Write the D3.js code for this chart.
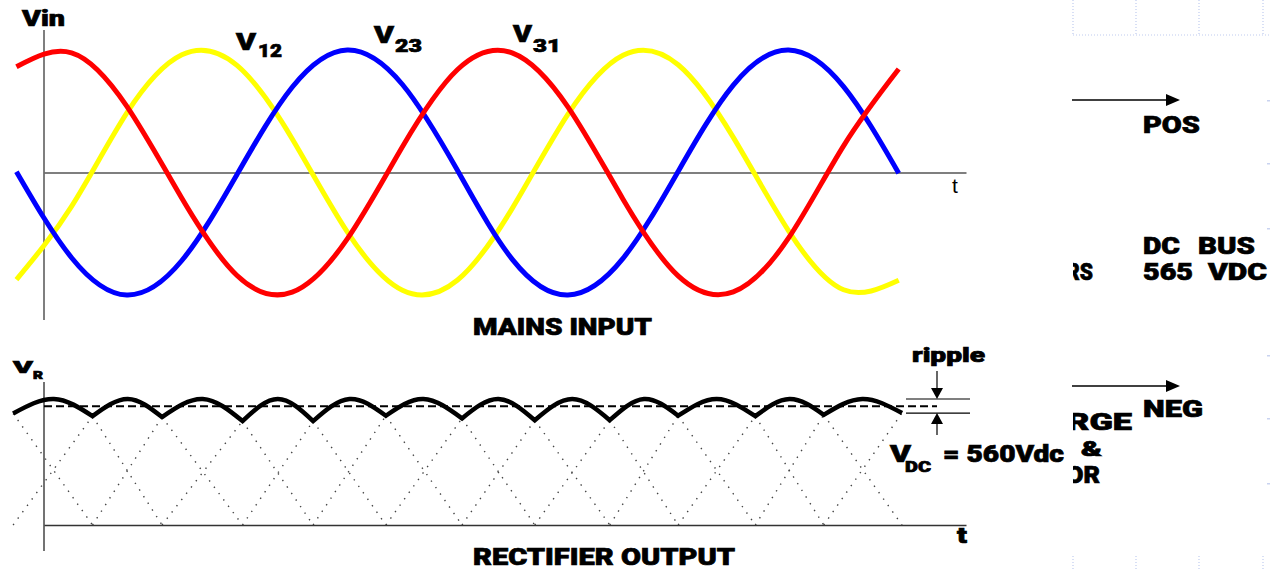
<!DOCTYPE html>
<html>
<head>
<meta charset="utf-8">
<script src="https://cdn.jsdelivr.net/npm/d3@7"></script>
<style>
  body { margin: 0; background: #fff; }
  svg { display: block; }
  .heavy { font-family: Roboto, "Liberation Sans", Arial, sans-serif; font-weight: 900; fill: #000;
           stroke: #000; stroke-width: 0.7px; paint-order: stroke; }
  .plain { font-family: "Liberation Sans", Arial, sans-serif; font-weight: 400; fill: #000; }
</style>
</head>
<body>
<div id="chart"></div>
<script>
// sample times (ms), 50 Hz mains
var tIn = [-1.25, 1.25, 3.75, 6.25, 8.75, 11.25, 13.75, 16.25, 18.75, 21.25, 23.75, 26.25, 28.75, 31.25, 33.75, 36.25, 38.75];
// line voltages (V) at those times
var v12 = [-494, -156, 274, 543, 494, 156, -274, -543, -496, -162, 268, 541, 497, 162, -268, -541, -497];  // yellow
var v23 = [4, -393, -565, -406, -9, 393, 565, 406, 9, -403, -565, -396, 5, 403, 565, 396, -3];             // blue
var v31 = [488, 552, 306, -119, -475, -552, -306, 119, 475, 551, 303, -123, -477, -551, -303, 123, 477];    // red

// rectifier output: dips and crests alternate
var rippleT = [-1.4, 0.45, 2.2, 3.8, 5.35, 7.2, 9.0, 10.6, 12.2, 13.85, 15.5, 17.2, 18.95, 20.6, 22.25, 23.95, 25.65, 27.2, 28.75, 30.5, 32.25, 33.8, 35.35, 37.1, 38.9];
var rippleV = [500, 565, 488, 565, 484, 565, 466, 565, 466, 565, 490, 565, 478, 565, 470, 565, 470, 565, 490, 565, 488, 565, 494, 565, 502];
var vdcLevel = 533;          // dashed mean line
var rippleBand = [565, 502]; // ripple marker lines

function main() {
    var width = 1271, height = 570;

    var svg = d3.select("#chart").append("svg")
        .attr("width", width)
        .attr("height", height);

    var xScale = d3.scaleLinear().domain([0, 41.8]).range([44, 966]);
    var yIn = d3.scaleLinear().domain([-565, 565]).range([295, 50]);
    var yOut = d3.scaleLinear().domain([0, 565]).range([525, 399]);

    // faint slide grid remnants, top right
    var grid = svg.append("g").attr("stroke", "#bfcbef").attr("stroke-width", 1.2).attr("stroke-dasharray", "1,2");
    [1073, 1136, 1199, 1263].forEach(function(gx) {
        grid.append("line").attr("x1", gx).attr("x2", gx).attr("y1", 0).attr("y2", 35);
        grid.append("line").attr("x1", gx).attr("x2", gx).attr("y1", 556).attr("y2", 570);
    });
    grid.append("line").attr("x1", 1073).attr("x2", 1271).attr("y1", 35).attr("y2", 35);
    [100, 163, 228, 355, 418, 483].forEach(function(gy) {
        svg.append("rect").attr("x", 1267).attr("y", gy).attr("width", 3).attr("height", 1.5).attr("fill", "#c9d3f0");
    });

    // ---- MAINS INPUT ----
    svg.append("line")
        .attr("x1", xScale(0)).attr("x2", xScale(0))
        .attr("y1", 30).attr("y2", 320)
        .attr("stroke", "#555").attr("stroke-width", 1.5);

    svg.append("g")
        .attr("transform", "translate(0," + yIn(0) + ")")
        .call(d3.axisBottom(xScale).tickValues([]).tickSizeOuter(0))
        .select(".domain").attr("stroke", "#555").attr("stroke-width", 1.5);

    var phaseLine = d3.line()
        .x(function(d, i) { return xScale(tIn[i]); })
        .y(function(d) { return yIn(d); })
        .curve(d3.curveNatural);

    [[v12, "#ffff00"], [v23, "#0000ff"], [v31, "#ff0000"]].forEach(function(s) {
        svg.append("path")
            .datum(s[0])
            .attr("d", phaseLine)
            .attr("fill", "none")
            .attr("stroke", s[1])
            .attr("stroke-width", 5);
    });

    // ---- RECTIFIER OUTPUT ----
    svg.append("line")
        .attr("x1", xScale(0)).attr("x2", xScale(0))
        .attr("y1", 382).attr("y2", 551)
        .attr("stroke", "#444").attr("stroke-width", 1.5);

    svg.append("g")
        .attr("transform", "translate(0," + yOut(0) + ")")
        .call(d3.axisBottom(xScale).tickValues([]).tickSizeOuter(0))
        .select(".domain").attr("stroke", "#333").attr("stroke-width", 1.5);

    var straight = d3.line()
        .x(function(d) { return xScale(d[0]); })
        .y(function(d) { return yOut(d[1]); });

    // dotted half-waves of each line voltage, crossing between the dips
    for (var k = 0; k + 2 < rippleT.length; k += 2) {
        [[[rippleT[k], rippleV[k]], [rippleT[k + 2], 0]],
         [[rippleT[k], 0], [rippleT[k + 2], rippleV[k + 2]]]].forEach(function(seg) {
            svg.append("path")
                .attr("d", straight(seg))
                .attr("fill", "none")
                .attr("stroke", "#444")
                .attr("stroke-width", 1.4)
                .attr("stroke-dasharray", "1.4,6.5");
        });
    }

    // dashed mean level, runs on to the ripple marker
    var arrowX = 937;
    svg.append("line")
        .attr("x1", xScale(0)).attr("x2", arrowX)
        .attr("y1", yOut(vdcLevel)).attr("y2", yOut(vdcLevel))
        .attr("stroke", "#000").attr("stroke-width", 2)
        .attr("stroke-dasharray", "8,4");

    // envelope: one arc per pulse, joined at the dips
    var arcLine = d3.line()
        .x(function(d) { return xScale(d[0]); })
        .y(function(d) { return yOut(d[1]); })
        .curve(d3.curveNatural);
    var envD = "";
    for (var j = 0; j + 2 < rippleT.length; j += 2) {
        var pts = [0, 1, 2].map(function(o) { return [rippleT[j + o], rippleV[j + o]]; });
        var s = arcLine(pts);
        envD += j === 0 ? s : s.replace(/^M[^A-Za-z]*/, "");
    }
    svg.append("path")
        .attr("d", envD)
        .attr("fill", "none")
        .attr("stroke", "#000")
        .attr("stroke-width", 4.5)
        .attr("stroke-linejoin", "miter");

    // ripple marker
    rippleBand.forEach(function(v) {
        svg.append("line")
            .attr("x1", 906).attr("x2", 970)
            .attr("y1", yOut(v)).attr("y2", yOut(v))
            .attr("stroke", "#000").attr("stroke-width", 1.2);
    });
    var topY = yOut(rippleBand[0]), botY = yOut(rippleBand[1]);
    svg.append("line").attr("x1", arrowX).attr("x2", arrowX).attr("y1", 371).attr("y2", topY - 8)
        .attr("stroke", "#000").attr("stroke-width", 1.2);
    svg.append("path").attr("d", "M" + (arrowX - 6) + "," + (topY - 11) + "L" + (arrowX + 6) + "," + (topY - 11) + "L" + arrowX + "," + topY + "Z");
    svg.append("line").attr("x1", arrowX).attr("x2", arrowX).attr("y1", botY + 8).attr("y2", 435)
        .attr("stroke", "#000").attr("stroke-width", 1.2);
    svg.append("path").attr("d", "M" + (arrowX - 6) + "," + (botY + 11) + "L" + (arrowX + 6) + "," + (botY + 11) + "L" + arrowX + "," + botY + "Z");

    // POS / NEG arrows
    [100, 386].forEach(function(ay) {
        svg.append("line").attr("x1", 1072).attr("x2", 1168).attr("y1", ay).attr("y2", ay)
            .attr("stroke", "#000").attr("stroke-width", 1.5);
        svg.append("path").attr("d", "M1166," + (ay - 6) + "L1180," + ay + "L1166," + (ay + 6) + "Z");
    });

    // ---- text ----
    function label(txt, x, y, size, len, cls) {
        var t = svg.append("text")
            .attr("class", cls || "heavy")
            .attr("x", x).attr("y", y)
            .attr("font-size", size)
            .text(txt);
        if (len) t.attr("textLength", len).attr("lengthAdjust", "spacingAndGlyphs");
        return t;
    }

    label("Vin", 22, 26, 22, 43);
    label("V", 236, 50, 23, 20);  label("12", 258, 57, 19, 24);
    label("V", 374, 43, 23, 20);  label("23", 395, 52, 19, 27);
    label("V", 513, 42, 23, 19);  label("31", 533, 52, 19, 28);
    label("t", 952, 193, 21, null, "plain");
    label("MAINS INPUT", 473, 335, 23, 179);

    label("V", 13, 373, 17, 20);  label("R", 33, 379, 11, 10);
    label("RECTIFIER OUTPUT", 473, 565, 23, 262);
    label("t", 957, 543, 22, 10);

    label("ripple", 912, 362, 20, 73);
    label("V", 890, 462, 23, 21);  label("DC", 905, 472, 15, 26);
    label("= 560Vdc", 943, 462, 23, 121);

    label("POS", 1143, 133, 24, 57);
    label("DC", 1143, 254, 24, 37);   label("BUS", 1198, 254, 24, 57);
    label("565", 1143, 280, 24, 50);  label("VDC", 1208, 280, 24, 59);
    label("NEG", 1143, 417, 24, 60);

    // words cut off at the left edge of the hidden box
    svg.append("clipPath").attr("id", "cut")
        .append("rect").attr("x", 1073).attr("y", 0).attr("width", 60).attr("height", 570);
    var cut = svg.append("g").attr("clip-path", "url(#cut)");
    cut.append("text").attr("class", "heavy").attr("x", 1066).attr("y", 280).attr("font-size", 24)
        .attr("textLength", 27).attr("lengthAdjust", "spacingAndGlyphs").text("RS");
    cut.append("text").attr("class", "heavy").attr("x", 1067).attr("y", 430).attr("font-size", 24)
        .attr("textLength", 65).attr("lengthAdjust", "spacingAndGlyphs").text("RGE");
    cut.append("text").attr("class", "heavy").attr("x", 1066).attr("y", 483).attr("font-size", 24)
        .attr("textLength", 34).attr("lengthAdjust", "spacingAndGlyphs").text("OR");
    label("&", 1081, 456, 20, 21);
}
main();
</script>
</body>
</html>
